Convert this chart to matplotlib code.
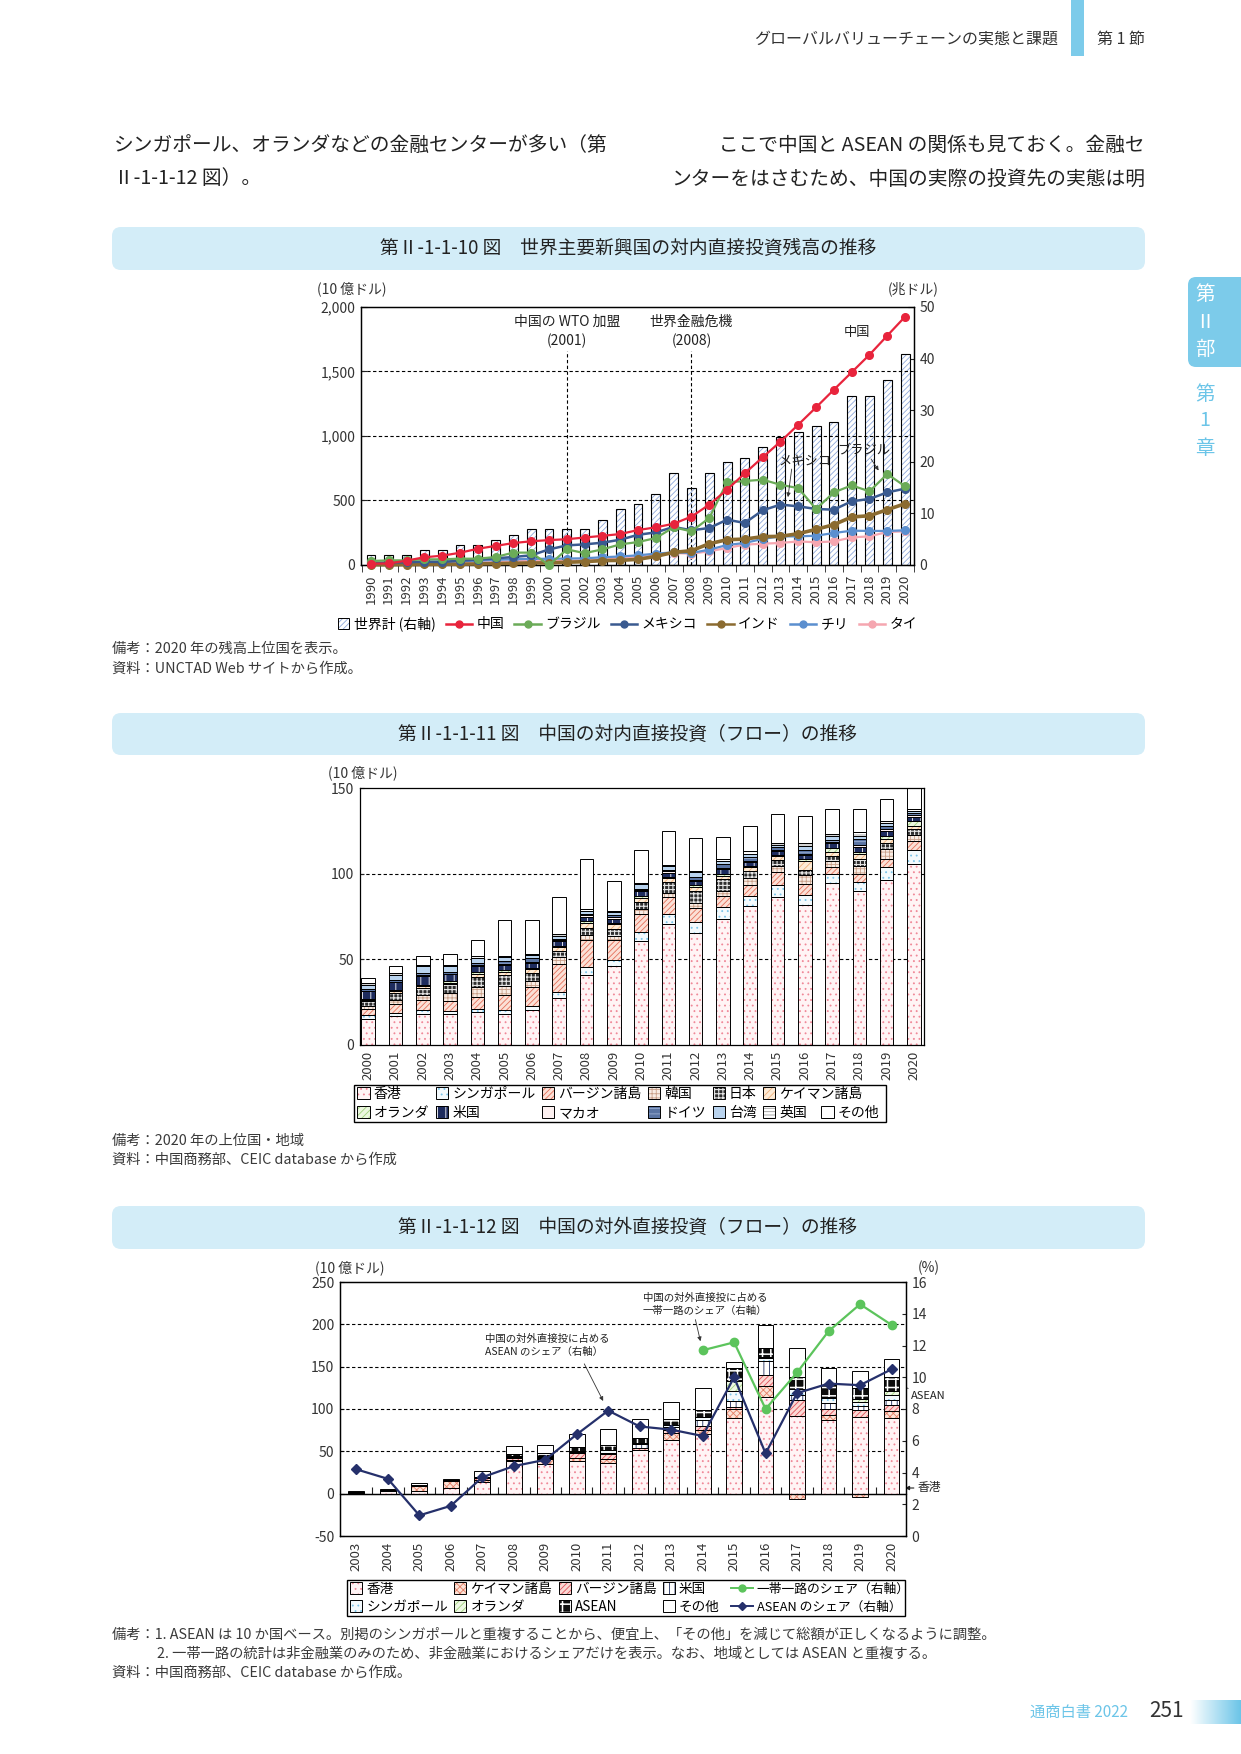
import numpy as np
import matplotlib
matplotlib.use('Agg')
import matplotlib.pyplot as plt
from matplotlib.patches import Rectangle, FancyBboxPatch
from matplotlib.lines import Line2D
from matplotlib.legend_handler import HandlerBase
from matplotlib.colors import LinearSegmentedColormap

plt.rcParams['font.family'] = ['Noto Sans CJK JP', 'DejaVu Sans']
plt.rcParams['hatch.linewidth'] = 0.6
plt.rcParams['axes.linewidth'] = 0.9
plt.rcParams['xtick.color'] = '#222222'
plt.rcParams['ytick.color'] = '#222222'
plt.rcParams['xtick.labelcolor'] = '#333333'
plt.rcParams['ytick.labelcolor'] = '#333333'

# ------------------------------------------------------------------ data: chart 1
years1 = list(range(1990, 2021))
world_total = [2.0, 2.0, 2.0, 2.9, 2.9, 3.8, 3.9, 4.9, 5.9, 6.9, 6.9, 6.9, 6.9, 8.8, 10.9, 11.9,
               13.8, 17.8, 14.9, 17.8, 19.9, 20.8, 22.8, 24.9, 25.8, 26.9, 27.8, 32.8, 32.8, 35.9, 40.9]
china = [10, 12, 34, 60, 72, 95, 126, 148, 170, 184, 193, 200, 213, 226, 240, 271, 292, 320, 375, 468,
         584, 711, 835, 956, 1088, 1222, 1359, 1494, 1630, 1778, 1925]
brazil = [31, 36, 36, 44, 44, 49, 49, 62, 96, 96, 0, 121, 92, 121, 160, 178, 209, 292, 261, 364,
          641, 651, 661, 622, 596, 434, 563, 617, 571, 705, 610]
mexico = [16, 18, 21, 26, 23, 34, 41, 52, 62, 75, 121, 152, 160, 173, 196, 234, 253, 295, 269, 287,
          351, 326, 424, 468, 455, 434, 429, 494, 512, 563, 592]
india = [2, 2, 3, 4, 6, 6, 8, 11, 13, 16, 16, 21, 26, 34, 36, 44, 67, 98, 111, 165,
         196, 201, 220, 222, 243, 276, 313, 372, 382, 429, 475]
chile = [16, 18, 20, 24, 28, 30, 34, 40, 44, 48, 48, 50, 52, 60, 66, 75, 88, 98, 93, 119,
         155, 171, 202, 222, 222, 227, 248, 266, 264, 264, 269]
thailand = [8, 10, 12, 14, 16, 18, 20, 22, 28, 32, 30, 32, 37, 45, 55, 62, 72, 93, 88, 106,
            132, 158, 165, 171, 183, 176, 183, 214, 222, 256, 261]
events1 = [('中国の WTO 加盟', 2001), ('世界金融危機', 2008)]

# ------------------------------------------------------------------ data: chart 2
years2 = list(range(2000, 2021))
c2_hongkong = [15.1, 16.7, 18.0, 18.0, 19.2, 18.0, 20.2, 27.7, 41.0, 46.1, 60.7, 70.5, 65.6, 73.4, 81.3, 86.4, 81.5, 94.8, 89.9, 96.3, 105.8]
c2_singapore = [2.2, 2.1, 2.3, 2.1, 2.0, 2.2, 2.3, 3.2, 4.4, 3.6, 5.4, 6.1, 6.3, 7.2, 5.8, 6.9, 6.0, 4.8, 5.2, 7.6, 7.8]
c2_virgin = [3.8, 5.0, 6.1, 5.8, 6.7, 9.0, 11.2, 16.6, 15.9, 11.3, 10.4, 9.7, 7.8, 6.2, 6.2, 7.4, 6.7, 4.0, 4.7, 4.9, 5.2]
c2_korea = [1.5, 2.2, 2.7, 4.5, 6.2, 5.2, 3.9, 3.7, 3.1, 2.7, 2.7, 2.6, 3.0, 3.1, 4.0, 4.0, 4.8, 3.7, 4.7, 5.5, 3.6]
c2_japan = [2.9, 4.3, 4.2, 5.1, 5.5, 6.5, 4.6, 3.6, 3.7, 4.1, 4.1, 6.3, 7.4, 7.1, 4.3, 3.2, 3.1, 3.3, 3.8, 3.7, 3.4]
c2_cayman = [0.6, 1.1, 1.2, 0.9, 2.0, 1.9, 2.1, 2.6, 3.1, 2.6, 2.5, 2.2, 2.0, 1.7, 2.0, 2.4, 5.4, 2.3, 3.2, 2.4, 2.2]
c2_netherlands = [0.8, 0.8, 0.6, 0.7, 0.8, 1.0, 0.8, 0.6, 0.9, 0.8, 0.9, 0.8, 1.1, 1.3, 0.6, 0.6, 0.8, 2.2, 1.3, 1.8, 2.5]
c2_usa = [4.4, 4.4, 5.4, 4.2, 3.9, 3.1, 2.9, 2.6, 2.9, 2.6, 3.0, 2.4, 2.6, 2.8, 2.4, 2.1, 2.4, 2.6, 2.7, 2.7, 2.3]
c2_macao = [0.3, 0.3, 0.5, 0.4, 0.5, 0.6, 0.6, 0.6, 0.6, 0.8, 0.7, 0.7, 0.6, 0.5, 0.9, 0.9, 0.5, 0.7, 1.3, 1.3, 1.5]
c2_germany = [1.0, 1.2, 0.9, 0.9, 1.1, 1.5, 2.0, 0.7, 0.9, 1.2, 0.9, 1.1, 1.5, 2.1, 2.1, 1.6, 2.7, 1.5, 3.7, 1.6, 1.4]
c2_taiwan = [2.3, 3.0, 4.0, 3.4, 3.1, 2.2, 2.1, 1.8, 1.9, 1.9, 2.5, 2.2, 2.8, 2.1, 2.0, 1.5, 2.0, 1.8, 1.4, 1.6, 1.0]
c2_uk = [1.2, 1.1, 0.9, 0.7, 0.8, 1.0, 0.7, 0.8, 0.9, 0.7, 0.7, 0.6, 0.8, 1.0, 1.4, 1.1, 2.2, 1.5, 2.5, 1.1, 1.0]
c2_other = [2.9, 3.7, 4.9, 6.2, 9.2, 20.5, 19.3, 22.1, 29.4, 17.5, 19.5, 19.8, 19.5, 13.0, 15.0, 16.9, 15.6, 14.6, 13.4, 13.1, 12.3]

# ------------------------------------------------------------------ data: chart 3
years3 = list(range(2003, 2021))
c3_hongkong = [1.15, 2.63, 3.42, 6.93, 13.73, 38.64, 35.60, 38.51, 35.65, 51.24, 62.82, 70.87, 89.79, 114.23, 91.15, 86.87, 90.55, 89.15]
c3_cayman = [0.81, 1.29, 5.16, 7.83, 2.60, 1.52, 5.37, 3.50, 4.94, 0.83, 9.25, 4.19, 10.21, 13.52, -6.61, 5.47, -4.0, 8.56]
c3_virgin = [0.21, 0.39, 1.23, 0.54, 1.88, 2.10, 1.61, 6.12, 6.21, 2.24, 3.22, 4.57, 1.85, 12.29, 19.30, 7.15, 8.68, 6.96]
c3_usa = [0.07, 0.12, 0.23, 0.20, 0.20, 0.46, 0.91, 1.31, 1.81, 4.05, 3.87, 7.60, 7.50, 16.98, 6.43, 7.48, 3.80, 6.02]
c3_singapore = [0.0, 0.05, 0.02, 0.13, 0.40, 1.55, 1.41, 1.12, 3.27, 1.52, 2.03, 2.81, 11.5, 3.17, 6.32, 6.41, 4.83, 5.92]
c3_netherlands = [0.0, 0.0, 0.0, 0.0, 0.01, 0.01, 0.01, 0.07, 0.17, 0.26, 0.21, 1.03, 12.0, 1.17, 0.0, 1.03, 3.9, 4.9]
c3_asean = [0.12, 0.20, 0.16, 0.34, 0.97, 2.48, 2.70, 4.40, 5.91, 6.10, 7.27, 7.81, 15.0, 10.28, 14.12, 13.69, 13.02, 16.0]
c3_other = [0.49, 0.82, 2.0, 1.6, 6.7, 10.0, 10.4, 15.2, 18.9, 22.5, 20.1, 26.4, 8.2, 27.1, 34.2, 20.9, 20.6, 22.1]
share_bri = [np.nan] * 11 + [11.7, 12.2, 8.0, 10.3, 12.9, 14.6, 13.3]
share_asean = [4.2, 3.6, 1.3, 1.9, 3.7, 4.4, 4.8, 6.4, 7.9, 6.9, 6.7, 6.3, 10.0, 5.2, 9.0, 9.6, 9.5, 10.5]

# ------------------------------------------------------------------ helpers
W, H = 1241, 1754
fig = plt.figure(figsize=(W / 100, H / 100), dpi=100)
bg = fig.add_axes([0, 0, 1, 1])
bg.axis('off')


def ax_at(l, t, r, b):
    return fig.add_axes([l / W, 1 - b / H, (r - l) / W, (b - t) / H])


def fxy(x, y):
    return (x / W, 1 - y / H)


class PatStyle:
    def __init__(self, fc, hc=None, hatch=None, hlw=0.6):
        self.fc = fc
        self.hc = hc if hc is not None else fc
        self.hatch = hatch if hatch else None
        self.hlw = hlw


class SquareHandler(HandlerBase):
    def create_artists(self, legend, orig, xd, yd, width, height, fontsize, trans):
        s = height * 1.15
        x0 = -xd + width - s
        y0 = -yd + (height - s) / 2
        if orig.fc is None:
            return [Rectangle((x0, y0), s, s, facecolor='none', edgecolor='none', lw=0, transform=trans)]
        with plt.rc_context({'hatch.linewidth': orig.hlw}):
            r1 = Rectangle((x0, y0), s, s, facecolor=orig.fc, edgecolor=orig.hc,
                           hatch=orig.hatch, lw=0, transform=trans)
        r2 = Rectangle((x0, y0), s, s, facecolor='none', edgecolor='black', lw=0.7, transform=trans)
        return [r1, r2]


HMAP = {PatStyle: SquareHandler()}


def stacked(ax, x, series, styles, width):
    pos = np.zeros(len(x))
    neg = np.zeros(len(x))
    for vals, st in zip(series, styles):
        v = np.asarray(vals, float)
        bottom = np.where(v >= 0, pos, neg)
        with plt.rc_context({'hatch.linewidth': st.hlw}):
            ax.bar(x, v, width, bottom=bottom, color=st.fc, edgecolor=st.hc, hatch=st.hatch,
                   linewidth=0, zorder=2)
        ax.bar(x, v, width, bottom=bottom, facecolor='none', edgecolor='black',
               linewidth=0.7, zorder=3)
        pos = pos + np.where(v > 0, v, 0)
        neg = neg + np.where(v < 0, v, 0)


def title_box(t, b, text):
    bg.add_patch(FancyBboxPatch((112, t), 1033, b - t, boxstyle='round,pad=0,rounding_size=9',
                                facecolor='#d3edf8', edgecolor='none'))
    bg.text(628, (t + b) / 2, text, ha='center', va='center', fontsize=13.5, color='#222222')


DASH = (0, (3, 2.2))

# ------------------------------------------------------------------ page decoration
bg.add_patch(Rectangle((1071, 0), 13, 56, facecolor='#7ccbea', edgecolor='none'))
bg.text(1058, 39, 'グローバルバリューチェーンの実態と課題', ha='right', va='center', fontsize=11.5, color='#333333')
bg.text(1097, 39, '第 1 節', ha='left', va='center', fontsize=11.5, color='#333333')

bg.text(114, 145, 'シンガポール、オランダなどの金融センターが多い（第', ha='left', va='center', fontsize=14.2, color='#222222')
bg.text(114, 179, 'Ⅱ-1-1-12 図）。', ha='left', va='center', fontsize=14.2, color='#222222')
bg.text(1145, 145, '　ここで中国と ASEAN の関係も見ておく。金融セ', ha='right', va='center', fontsize=14.2, color='#222222')
bg.text(1145, 179, 'ンターをはさむため、中国の実際の投資先の実態は明', ha='right', va='center', fontsize=14.2, color='#222222')

bg.add_patch(FancyBboxPatch((1188, 277), 70, 90, boxstyle='round,pad=0,rounding_size=8',
                            facecolor='#7ccbea', edgecolor='none'))
for ch, yy in zip(['第', 'Ⅱ', '部'], [294, 322, 349]):
    bg.text(1205, yy, ch, ha='center', va='center', fontsize=14, color='white')
for ch, yy in zip(['第', '1', '章'], [394, 421, 448]):
    bg.text(1205, yy, ch, ha='center', va='center', fontsize=14, color='#6cc5e8')

grad = LinearSegmentedColormap.from_list('g', ['#ffffff', '#6cc5e8'])
bg.imshow(np.linspace(0, 1, 64).reshape(1, -1), extent=(1190, 1241, 1724, 1700), cmap=grad, aspect='auto')
bg.text(1128, 1712, '通商白書 2022', ha='right', va='center', fontsize=11, color='#6cc5e8')
bg.text(1149, 1711, '251', ha='left', va='center', fontsize=15, color='#333333')

title_box(227, 270, '第Ⅱ-1-1-10 図　世界主要新興国の対内直接投資残高の推移')
title_box(713, 755, '第Ⅱ-1-1-11 図　中国の対内直接投資（フロー）の推移')
title_box(1206, 1249, '第Ⅱ-1-1-12 図　中国の対外直接投資（フロー）の推移')

NOTE = dict(ha='left', va='center', fontsize=10.3, color='#3a3a3a')
bg.text(112, 649, '備考：2020 年の残高上位国を表示。', **NOTE)
bg.text(112, 669, '資料：UNCTAD Web サイトから作成。', **NOTE)
bg.text(112, 1141, '備考：2020 年の上位国・地域', **NOTE)
bg.text(112, 1160, '資料：中国商務部、CEIC database から作成', **NOTE)
bg.text(112, 1635, '備考：1. ASEAN は 10 か国ベース。別掲のシンガポールと重複することから、便宜上、「その他」を減じて総額が正しくなるように調整。', **NOTE)
bg.text(157, 1654, '2. 一帯一路の統計は非金融業のみのため、非金融業におけるシェアだけを表示。なお、地域としては ASEAN と重複する。', **NOTE)
bg.text(112, 1673, '資料：中国商務部、CEIC database から作成。', **NOTE)

UNIT = dict(va='center', fontsize=10, color='#333333')
bg.text(317, 289, '(10 億ドル)', ha='left', **UNIT)
bg.text(939, 289, '(兆ドル)', ha='right', **UNIT)
bg.text(328, 773, '(10 億ドル)', ha='left', **UNIT)
bg.text(315, 1268, '(10 億ドル)', ha='left', **UNIT)
bg.text(940, 1268, '(%)', ha='right', **UNIT)

# ------------------------------------------------------------------ chart 1
ax1 = ax_at(361, 307, 914, 565)
ax1r = ax1.twinx()
x1 = np.arange(len(years1))
hatch_blue = '#8ea8da'
ax1r.bar(x1, world_total, 0.5, color='white', edgecolor=hatch_blue, hatch='//////', linewidth=0, zorder=2)
ax1r.bar(x1, world_total, 0.5, facecolor='none', edgecolor='black', linewidth=0.8, zorder=3)
ax1r.set_ylim(0, 50)
ax1r.set_yticks(range(0, 51, 10))
ax1r.tick_params(axis='y', direction='in', length=4, labelsize=10, pad=4)
ax1.set_zorder(ax1r.get_zorder() + 1)
ax1.patch.set_visible(False)

line_specs = [
    (thailand, 'タイ', '#f5a6b0', 1.6),
    (chile, 'チリ', '#5b8fcf', 1.6),
    (india, 'インド', '#8b6b30', 2.6),
    (mexico, 'メキシコ', '#3a5a90', 1.8),
    (brazil, 'ブラジル', '#6bab58', 1.6),
    (china, '中国', '#e8243c', 1.6),
]
for vals, lab, col, lw in line_specs:
    ax1.plot(x1, vals, color=col, lw=lw, marker='o', markersize=5.5, clip_on=False, zorder=5)
ax1.set_ylim(0, 2000)
ax1.set_xlim(-0.56, 30.36)
ax1.set_yticks(range(0, 2001, 500))
ax1.set_yticklabels([f'{v:,}' for v in range(0, 2001, 500)])
ax1.tick_params(axis='y', direction='in', length=4, labelsize=10, pad=4)
for v in (500, 1000, 1500):
    ax1.axhline(v, color='black', lw=0.8, ls=DASH, zorder=1)
ax1.set_xticks(x1)
ax1.set_xticklabels([str(y) for y in years1], rotation=90, fontsize=9.5)
ax1.set_xticks(np.arange(-0.5, len(years1), 1.0), minor=True)
ax1.tick_params(axis='x', which='major', length=0, pad=7)
ax1.tick_params(axis='x', which='minor', length=5, direction='out')
ax1r.set_xlim(ax1.get_xlim())

for name, yr in events1:
    i = years1.index(yr)
    ax1.vlines(i, 0, 1660, colors='black', lw=0.8, linestyles=DASH, zorder=1)
    ax1.text(i, 1810, f'{name}\n({yr})', ha='center', va='center', fontsize=10, linespacing=1.35, color='#222222')
ax1.text(27.3, 1800, '中国', ha='center', va='center', fontsize=9.5, color='#222222')
ax1.text(24.4, 802, 'メキシコ', ha='center', va='center', fontsize=9.5, color='#222222', zorder=6)
ax1.annotate('', xy=(23.4, 505), xytext=(23.65, 765),
             arrowprops=dict(arrowstyle='-|>', lw=0.6, color='#333333', mutation_scale=6), zorder=6)
ax1.text(27.7, 895, 'ブラジル', ha='center', va='center', fontsize=9.5, color='#222222', zorder=6)
ax1.annotate('', xy=(28.6, 715), xytext=(28.0, 840),
             arrowprops=dict(arrowstyle='-|>', lw=0.6, color='#333333', mutation_scale=6), zorder=6)

h1 = [PatStyle('white', hatch_blue, '//////')]
l1 = ['世界計 (右軸)']
for vals, lab, col, lw in [line_specs[5], line_specs[4], line_specs[3], line_specs[2], line_specs[1], line_specs[0]]:
    h1.append(Line2D([], [], color=col, lw=1.8, marker='o', markersize=5))
    l1.append(lab)
fig.legend(h1, l1, loc='center', bbox_to_anchor=fxy(620, 624), ncol=7, frameon=False,
           fontsize=10, handlelength=1.9, columnspacing=0.75, handletextpad=0.3,
           handler_map=HMAP)

# ------------------------------------------------------------------ chart 2
ax2 = ax_at(360, 788, 924, 1045)
x2 = np.arange(len(years2))
st_hk = PatStyle('#fff4f5', '#f08898', '...')
st_sg = PatStyle('#f4fafd', '#7cc4e8', '...')
st_vi = PatStyle('#fbe0d6', '#e4705a', '//////')
st_kr = PatStyle('#f8ece4', '#c9a08a', '++++')
st_jp = PatStyle('#2e2e2e', '#e6e6e6', '++++', hlw=0.8)
st_ky = PatStyle('#fdebd6', '#f0b07a', '/////')
st_nl = PatStyle('#ebf7df', '#9fd07c', '/////')
st_us = PatStyle('#1e2c5e', 'white', '||')
st_mo = PatStyle('#fdf1f1')
st_de = PatStyle('#5a74a3', '#9db0d3', '---')
st_tw = PatStyle('#b9d3ee')
st_uk = PatStyle('white', '#9a9a9a', '-----')
st_ot = PatStyle('white')
series2 = [c2_hongkong, c2_singapore, c2_virgin, c2_korea, c2_japan, c2_cayman, c2_netherlands,
           c2_usa, c2_macao, c2_germany, c2_taiwan, c2_uk, c2_other]
styles2 = [st_hk, st_sg, st_vi, st_kr, st_jp, st_ky, st_nl, st_us, st_mo, st_de, st_tw, st_uk, st_ot]
names2 = ['香港', 'シンガポール', 'バージン諸島', '韓国', '日本', 'ケイマン諸島', 'オランダ',
          '米国', 'マカオ', 'ドイツ', '台湾', '英国', 'その他']
stacked(ax2, x2, series2, styles2, 0.5)
ax2.set_ylim(0, 150)
ax2.set_xlim(-0.3, 20.37)
ax2.set_yticks([0, 50, 100, 150])
ax2.tick_params(axis='y', direction='in', length=3, labelsize=10, pad=4)
for v in (50, 100):
    ax2.axhline(v, color='black', lw=0.8, ls=DASH, zorder=1)
ax2.set_xticks(x2)
ax2.set_xticklabels([str(y) for y in years2], rotation=90, fontsize=9.5)
ax2.tick_params(axis='x', length=0, pad=4)

LEGKW = dict(frameon=False, fontsize=10, handlelength=0.9, handleheight=0.8, columnspacing=0.45,
             handletextpad=0.3, borderpad=0.0, borderaxespad=0.0, labelspacing=0.35, handler_map=HMAP)
order2 = [0, 6, 1, 7, 2, 8, 3, 9, 4, 10, 5, 11]
fig.legend([styles2[i] for i in order2], [names2[i] for i in order2], loc='center left',
           bbox_to_anchor=fxy(357, 1103.5), ncol=6, **LEGKW)
fig.legend([styles2[12]], [names2[12]], loc='center left', bbox_to_anchor=fxy(821, 1113), ncol=1, **LEGKW)
bg.add_patch(Rectangle((354, 1085), 532, 37, facecolor='none', edgecolor='black', lw=1.0))

# ------------------------------------------------------------------ chart 3
ax3 = ax_at(340, 1282, 906, 1536)
x3 = np.arange(len(years3))
s3_hk = PatStyle('#fff4f5', '#f08898', '...')
s3_ky = PatStyle('#fbe3d8', '#e58068', 'xxxxx')
s3_vi = PatStyle('#fbd8d4', '#e0505a', '//////')
s3_us = PatStyle('white', '#1e2c5e', '|||')
s3_sg = PatStyle('#f4fafd', '#7cc4e8', '...')
s3_nl = PatStyle('#eef8e4', '#9fd07c', '/////')
s3_as = PatStyle('#0d0d0d', 'white', '++', hlw=1.1)
s3_ot = PatStyle('white')
series3 = [c3_hongkong, c3_cayman, c3_virgin, c3_usa, c3_singapore, c3_netherlands, c3_asean, c3_other]
styles3 = [s3_hk, s3_ky, s3_vi, s3_us, s3_sg, s3_nl, s3_as, s3_ot]
ax3.set_axisbelow(True)
stacked(ax3, x3, series3, styles3, 0.5)
ax3.set_ylim(-50, 250)
ax3.set_xlim(-0.52, 17.46)
ax3.set_yticks(range(-50, 251, 50))
ax3.set_yticklabels([str(v) for v in range(-50, 251, 50)])
ax3.tick_params(axis='y', direction='in', length=3, labelsize=10, pad=4)
for v in (50, 100, 150, 200):
    ax3.axhline(v, color='black', lw=0.8, ls=DASH, zorder=1)
ax3.axhline(0, color='black', lw=0.9, zorder=4)
ax3.set_xticks(x3)
ax3.set_xticklabels([str(y) for y in years3], rotation=90, fontsize=9.5)
ax3.tick_params(axis='x', length=0, pad=4)
lo, hi = ax3.get_ylim()
sec = ax3.secondary_xaxis((0 - lo) / (hi - lo))
sec.set_xticks(np.arange(0.5, len(years3) - 1, 1.0))
sec.set_xticklabels([])
sec.tick_params(direction='in', length=5, width=0.8)
sec.spines['bottom'].set_linewidth(0.9)

ax3r = ax3.twinx()
ax3r.plot(x3, share_bri, color='#5cc45c', lw=1.6, marker='o', markersize=6, zorder=5)
ax3r.plot(x3, share_asean, color='#25306b', lw=1.6, marker='D', markersize=5.5, zorder=6)
ax3r.set_ylim(0, 16)
ax3r.set_yticks(range(0, 17, 2))
ax3r.tick_params(axis='y', direction='in', length=3, labelsize=10, pad=4)
ax3r.set_xlim(ax3.get_xlim())

ax3r.text(9.1, 14.6, '中国の対外直接投に占める\n一帯一路のシェア（右軸）', ha='left', va='center',
          fontsize=7.5, linespacing=1.3, color='#222222')
ax3r.annotate('', xy=(10.95, 12.1), xytext=(10.75, 13.8),
              arrowprops=dict(arrowstyle='-|>', lw=0.6, color='#333333', mutation_scale=6))
ax3r.text(4.1, 12.0, '中国の対外直接投に占める\nASEAN のシェア（右軸）', ha='left', va='center',
          fontsize=7.5, linespacing=1.3, color='#222222')
ax3r.annotate('', xy=(7.88, 8.35), xytext=(7.2, 11.0),
              arrowprops=dict(arrowstyle='-|>', lw=0.6, color='#333333', mutation_scale=6))

bg.annotate('ASEAN', xy=(899, 1385), xytext=(911, 1396), ha='left', va='center', fontsize=8,
            color='#222222', arrowprops=dict(arrowstyle='-|>', lw=0.6, color='#333333',
                                              mutation_scale=5, shrinkA=0, shrinkB=0))
bg.annotate('香港', xy=(905, 1488), xytext=(918, 1488), ha='left', va='center', fontsize=8.5,
            color='#222222', arrowprops=dict(arrowstyle='-|>', lw=0.8, color='#222222',
                                              mutation_scale=6, shrinkA=1, shrinkB=0))

names3 = ['香港', 'シンガポール', 'ケイマン諸島', 'オランダ', 'バージン諸島', 'ASEAN', '米国', 'その他']
h3 = [s3_hk, s3_sg, s3_ky, s3_nl, s3_vi, s3_as, s3_us, s3_ot]
LEG3 = dict(LEGKW)
LEG3['fontsize'] = 9.8
LEG3['labelspacing'] = 0.3
fig.legend(h3, names3, loc='center left', bbox_to_anchor=fxy(350, 1598), ncol=4, **LEG3)
LEG3b = dict(LEG3)
LEG3b['handlelength'] = 1.7
LEG3b['fontsize'] = 9.2
LEG3b['labelspacing'] = 0.4
fig.legend([Line2D([], [], color='#5cc45c', lw=1.4, marker='o', markersize=5),
            Line2D([], [], color='#25306b', lw=1.4, marker='D', markersize=4.5)],
           ['一帯一路のシェア（右軸）', 'ASEAN のシェア（右軸）'], loc='center left',
           bbox_to_anchor=fxy(731, 1598), ncol=1, **LEG3b)
bg.add_patch(Rectangle((347, 1580), 558, 36, facecolor='none', edgecolor='black', lw=1.0))

bg.set_xlim(0, W)
bg.set_ylim(H, 0)

fig.savefig('out.png', dpi=100)
